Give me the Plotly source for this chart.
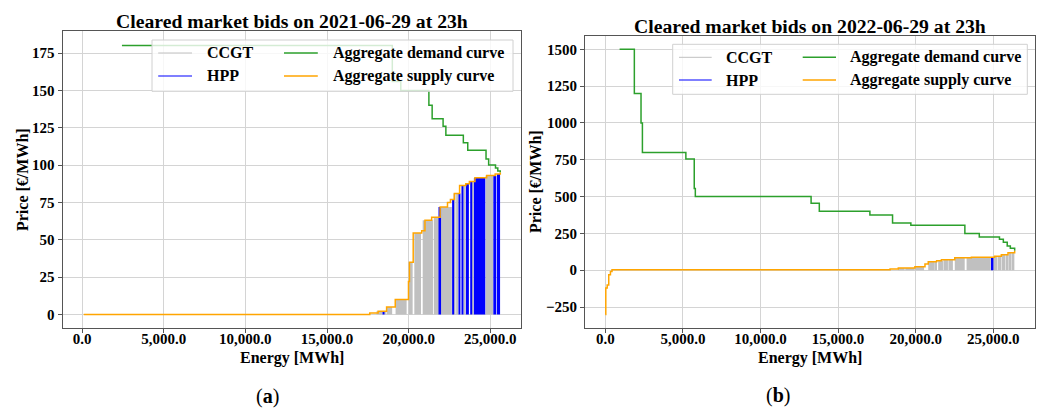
import numpy as np
import plotly.graph_objects as go

W, H = 1043, 409

# ---------------- Panel (a): 2021-06-29 23h ----------------
demand_a_energy = [2440, 19000, 19520, 21240, 21440, 22110, 22280, 23350, 23620, 24740, 24900, 25320, 25460, 25610]
demand_a_price = [180, 156, 150, 140, 131, 126, 120, 115, 110, 104, 100, 98, 96, 95]

supply_a_energy = [100, 17620, 18130, 18650, 19180, 19990, 20050, 20280, 20800, 21000, 21410, 21930,
                   22380, 22560, 22800, 23120, 23500, 23720, 24060, 24780, 25300, 25615]
supply_a_price = [0, 1, 2.2, 5, 10, 22, 35, 54.5, 56, 63, 65, 72,
                  75, 77, 81, 86.4, 87.5, 89, 91.5, 93, 94, 95]

bars_a_start = [18030, 18401, 18490, 18647, 19200, 20000, 20348, 20861, 21540, 21882, 21986, 22663,
                22800, 22910, 23050, 23235, 23383, 23506, 23770, 23893, 23998, 24711, 25185, 25412]
bars_a_end = [18401, 18481, 18604, 18991, 19877, 20246, 20758, 21490, 21865, 21986, 22645, 22786,
              22870, 23040, 23173, 23358, 23481, 23690, 23893, 23990, 24692, 25166, 25370, 25600]
bars_a_type = ["CCGT", "HPP", "CCGT", "CCGT", "CCGT", "CCGT", "CCGT", "CCGT", "CCGT", "HPP", "CCGT", "HPP",
               "CCGT", "CCGT", "HPP", "HPP", "CCGT", "HPP", "HPP", "CCGT", "HPP", "CCGT", "HPP", "HPP"]

# ---------------- Panel (b): 2022-06-29 23h ----------------
demand_b_energy = [920, 1870, 2300, 2390, 5190, 5730, 5800, 13260, 13790, 17050, 18510, 19690,
                   23170, 24100, 25400, 25650, 25900, 26100, 26380]
demand_b_price = [1500, 1200, 1000, 800, 755, 555, 500, 455, 400, 375, 320, 305,
                  250, 226, 210, 190, 165, 150, 133]

supply_b_energy = [0, 30, 120, 220, 330, 430, 18350, 18880, 19950, 20600, 20810, 21350, 21660,
                   22520, 23590, 25090, 25520, 25950, 26380]
supply_b_price = [-300, -120, -100, -30, -8, 3, 9, 16, 23, 43, 57, 65, 72,
                  84, 88, 95, 106, 118, 133]

bars_b_start = [18880, 19330, 19960, 20810, 21250, 21450, 21790, 22110, 22520, 23280, 24850, 25010,
                25290, 25540, 25800, 26010, 26180]
bars_b_end = [19290, 19940, 20540, 21230, 21340, 21760, 22080, 22400, 23160, 24830, 25010, 25260,
              25510, 25770, 25990, 26160, 26360]
bars_b_type = ["CCGT", "CCGT", "CCGT", "CCGT", "CCGT", "CCGT", "CCGT", "CCGT", "CCGT", "CCGT", "HPP", "CCGT",
               "CCGT", "CCGT", "CCGT", "CCGT", "CCGT"]

titles = ["Cleared market bids on 2021-06-29 at 23h", "Cleared market bids on 2022-06-29 at 23h"]
legend_labels = ["CCGT", "HPP", "Aggregate demand curve", "Aggregate supply curve"]
x_ticks = [0, 5000, 10000, 15000, 20000, 25000]
y_ticks_a = [0, 25, 50, 75, 100, 125, 150, 175]
y_ticks_b = [-250, 0, 250, 500, 750, 1000, 1250, 1500]

GRAY = "#c0c0c0"
BLUE = "#0000ff"
GREEN = "#2ca02c"
ORANGE = "#ffa500"
FONT = "Liberation Serif"

fig = go.Figure()


def add_bars(starts, ends, types, sE, sP, xa, ya):
    starts = np.array(starts, float)
    ends = np.array(ends, float)
    centers = (starts + ends) / 2
    idx = np.searchsorted(np.array(sE, float), centers, side="right") - 1
    heights = np.array(sP, float)[idx]
    for tech, color in [("CCGT", GRAY), ("HPP", BLUE)]:
        m = np.array([t == tech for t in types])
        fig.add_trace(go.Bar(x=centers[m], y=heights[m], width=(ends - starts)[m], base=0,
                             marker=dict(color=color, line=dict(width=0)),
                             xaxis=xa, yaxis=ya, showlegend=False, hoverinfo="skip"))


add_bars(bars_a_start, bars_a_end, bars_a_type, supply_a_energy, supply_a_price, "x", "y")
add_bars(bars_b_start, bars_b_end, bars_b_type, supply_b_energy, supply_b_price, "x2", "y2")

for xa, ya, dE, dP, sE, sP in [("x", "y", demand_a_energy, demand_a_price, supply_a_energy, supply_a_price),
                               ("x2", "y2", demand_b_energy, demand_b_price, supply_b_energy, supply_b_price)]:
    fig.add_trace(go.Scatter(x=dE, y=dP, mode="lines", line=dict(color=GREEN, width=1.5, shape="hv"),
                             xaxis=xa, yaxis=ya, showlegend=False, hoverinfo="skip"))
    fig.add_trace(go.Scatter(x=sE, y=sP, mode="lines", line=dict(color=ORANGE, width=1.5, shape="hv"),
                             xaxis=xa, yaxis=ya, showlegend=False, hoverinfo="skip"))


def px(x):
    return x / W


def py(y):
    return 1 - y / H


tickfont = dict(family=FONT, size=15, color="black", weight="bold")
axis_common = dict(showgrid=True, gridcolor="#d4d4d4", gridwidth=1, showline=True, mirror=True,
                   linecolor="#555555", linewidth=1, ticks="outside", ticklen=4, tickcolor="#555555",
                   tickfont=tickfont, zeroline=False)

fig.update_layout(
    width=W, height=H, margin=dict(l=0, r=0, t=0, b=0),
    paper_bgcolor="white", plot_bgcolor="white", barmode="overlay", showlegend=False,
    xaxis=dict(domain=[px(62.5), px(521.3)], range=[-1200, 26900], tickvals=x_ticks,
               tickformat=",.1f", anchor="y", ticklabelstandoff=-7, **axis_common),
    yaxis=dict(domain=[py(328.3), py(31.4)], range=[-9.3, 189.5], tickvals=y_ticks_a,
               anchor="x", **axis_common),
    xaxis2=dict(domain=[px(585), px(1035)], range=[-1310, 27690], tickvals=x_ticks,
                tickformat=",.1f", anchor="y2", ticklabelstandoff=-7, **axis_common),
    yaxis2=dict(domain=[py(327.7), py(36)], range=[-390, 1590], tickvals=y_ticks_b,
                anchor="x2", **axis_common),
)

ann = []
shapes = []
bold = dict(family=FONT, color="black", weight="bold")

panels = [
    dict(cx=291.9, title_y=21, ylab_x=22, ylab_y=180, xlab_y=358, cap="a", cap_x=267, cap_y=396,
         box=(152, 40, 513, 91.3), l1=(158.2, 192), t1=204.5, l2=(284, 317.8), t2=330.6, rows=(53, 76)),
    dict(cx=810, title_y=25.7, ylab_x=536, ylab_y=182, xlab_y=358, cap="b", cap_x=778, cap_y=395,
         box=(672.7, 44.3, 1027.3, 94.3), l1=(679, 711.7), t1=724.3, l2=(802.7, 836), t2=848.3, rows=(57.3, 80)),
]

for i, p in enumerate(panels):
    ann.append(dict(text=titles[i], x=px(p["cx"]), y=py(p["title_y"]), xref="paper", yref="paper",
                    xanchor="center", yanchor="middle", showarrow=False, font=dict(size=19.7, **bold)))
    ann.append(dict(text="Energy [MWh]", x=px(p["cx"]), y=py(p["xlab_y"]), xref="paper", yref="paper",
                    xanchor="center", yanchor="middle", showarrow=False, font=dict(size=16, **bold)))
    ann.append(dict(text="Price [€/MWh]", x=px(p["ylab_x"]), y=py(p["ylab_y"]), xref="paper", yref="paper",
                    xanchor="center", yanchor="middle", showarrow=False, textangle=-90,
                    font=dict(size=16, **bold)))
    ann.append(dict(text="(<b>%s</b>)" % p["cap"], x=px(p["cap_x"]), y=py(p["cap_y"]), xref="paper",
                    yref="paper", xanchor="center", yanchor="middle", showarrow=False,
                    font=dict(size=20, family=FONT, color="black")))
    x0, y0, x1, y1 = p["box"]
    shapes.append(dict(type="rect", xref="paper", yref="paper", x0=px(x0), x1=px(x1), y0=py(y1), y1=py(y0),
                       line=dict(color="#d0d0d0", width=1), fillcolor="rgba(255,255,255,0.8)", layer="above"))
    entries = [(p["l1"], p["t1"], p["rows"][0], GRAY, 1.0, legend_labels[0]),
               (p["l1"], p["t1"], p["rows"][1], BLUE, 1.2, legend_labels[1]),
               (p["l2"], p["t2"], p["rows"][0], GREEN, 1.5, legend_labels[2]),
               (p["l2"], p["t2"], p["rows"][1], ORANGE, 1.5, legend_labels[3])]
    for (lx0, lx1), tx, ry, col, lw, lab in entries:
        shapes.append(dict(type="line", xref="paper", yref="paper", x0=px(lx0), x1=px(lx1), y0=py(ry), y1=py(ry),
                           line=dict(color=col, width=lw), layer="above"))
        ann.append(dict(text=lab, x=px(tx), y=py(ry), xref="paper", yref="paper", xanchor="left",
                        yanchor="middle", showarrow=False, font=dict(size=16, **bold)))

fig.update_layout(annotations=ann, shapes=shapes)
fig.write_html("out.html")
